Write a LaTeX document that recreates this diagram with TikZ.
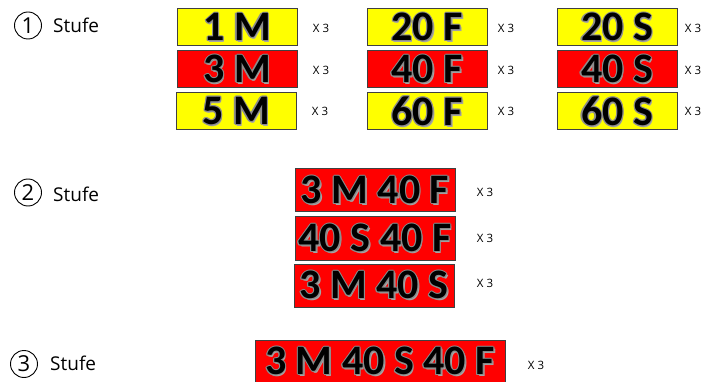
\documentclass[tikz,border=0pt]{standalone}
\usepackage{fontspec}
\setmainfont{Open Sans}
\newfontfamily\boxfont{Carlito}
\definecolor{yel}{HTML}{FFFF00}
\definecolor{rd}{HTML}{FF0000}
\definecolor{bline}{HTML}{404040}
\definecolor{olc}{HTML}{8C8C8C}
\definecolor{shd}{HTML}{A6A6A6}
\newcommand\outl[1]{\raisebox{-1.5pt}{%
  \makebox[0pt][l]{\hspace*{1.6pt}\raisebox{-1.6pt}{\color{shd}#1}}%
  \foreach \a in {0,45,...,315}{%
    \pgfmathsetlengthmacro\dx{1.1pt*cos(\a)}%
    \pgfmathsetlengthmacro\dy{1.1pt*sin(\a)}%
    \makebox[0pt][l]{\hspace*{\dx}\raisebox{\dy}{\color{olc}#1}}}%
  #1}}
\tikzset{
  x=1pt, y=1pt,
  tag/.style={draw=bline, line width=1pt, inner sep=0pt, minimum height=37pt,
    font=\boxfont\bfseries\fontsize{42}{42}\selectfont, text=black},
  small/.style={minimum width=120pt},
  mid/.style={minimum width=160pt, minimum height=43pt},
  big/.style={minimum width=250pt, minimum height=43pt},
  yb/.style={fill=yel},
  rb/.style={fill=rd},
  times/.style={font=\fontsize{11.5}{12}\selectfont, inner sep=0pt},
  num/.style={draw, circle, line width=0.9pt, minimum size=27pt, inner sep=0pt,
    font=\fontsize{22}{22}\selectfont},
  stufe/.style={anchor=west, inner sep=0pt, font=\fontsize{19}{19}\selectfont}
}
\begin{document}
\begin{tikzpicture}
\path[fill=white, use as bounding box] (0,0) rectangle (704,-382);
% labels
\node[num] (c1) at (28,-25.5) {1};
\node[stufe] (s1) at (53,-25) {Stufe};
\node[num] (c2) at (28,-192.5) {2};
\node[stufe] (s2) at (53,-194) {Stufe};
\node[num] (c3) at (24,-364) {3};
\node[stufe] (s3) at (50,-363) {Stufe};
% stage 1
\node[tag,small,yb] (m1) at (237,-27.5) {\outl{1 M}};
\node[tag,small,rb] (m3) at (237,-69.5) {\outl{3 M}};
\node[tag,small,yb] (m5) at (236,-111.5) {\outl{5 M}};
\node[tag,small,yb] (f20) at (427,-27.5) {\outl{20 F}};
\node[tag,small,rb] (f40) at (427,-69.5) {\outl{40 F}};
\node[tag,small,yb] (f60) at (427,-111.5) {\outl{60 F}};
\node[tag,small,yb] (s20) at (617,-27.5) {\outl{20 S}};
\node[tag,small,rb] (s40) at (617,-69.5) {\outl{40 S}};
\node[tag,small,yb] (s60) at (617,-111.5) {\outl{60 S}};
\node[times] (t11) at (321,-28) {X 3};
\node[times] (t12) at (321,-70) {X 3};
\node[times] (t13) at (320,-111) {X 3};
\node[times] (t21) at (506,-28) {X 3};
\node[times] (t22) at (506,-70) {X 3};
\node[times] (t23) at (506,-111) {X 3};
\node[times] (t31) at (693,-28) {X 3};
\node[times] (t32) at (693,-70) {X 3};
\node[times] (t33) at (693,-111) {X 3};
% stage 2
\node[tag,mid,rb] (d1) at (375,-190.5) {\outl{3 M 40 F}};
\node[tag,mid,rb] (d2) at (375,-238.5) {\outl{40 S 40 F}};
\node[tag,mid,rb] (d3) at (374,-285.5) {\outl{3 M 40 S}};
\node[times] (u1) at (485,-192) {X 3};
\node[times] (u2) at (485,-238) {X 3};
\node[times] (u3) at (485,-283) {X 3};
% stage 3
\node[tag,big,rb] (e1) at (380,-361.5) {\outl{3 M 40 S 40 F}};
\node[times] (v1) at (536,-365) {X 3};
\end{tikzpicture}
\end{document}
